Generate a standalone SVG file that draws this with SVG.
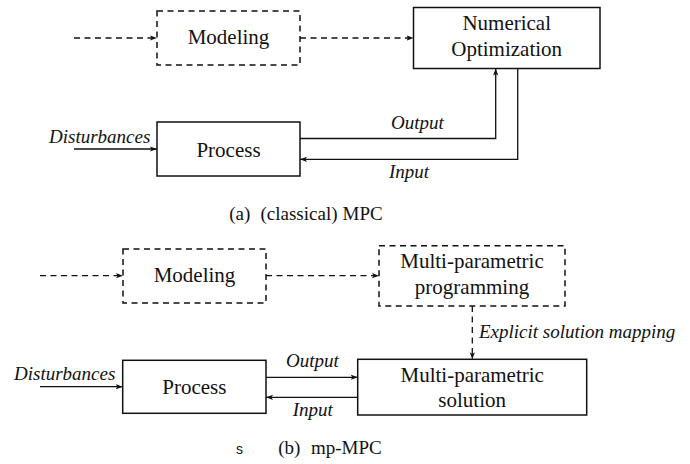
<svg xmlns="http://www.w3.org/2000/svg" width="690" height="464" viewBox="0 0 690 464">
<defs>
<marker id="arr" viewBox="0 0 7 6" refX="7" refY="3" markerWidth="7" markerHeight="6" markerUnits="userSpaceOnUse" orient="auto">
<path d="M0,0.4 L7,3 L0,5.6 L1.6,3 z" fill="#111" stroke="none"/>
</marker>
</defs>
<style>
.box{fill:#fff;stroke:#111;stroke-width:1.5}
.dbox{fill:#fff;stroke:#111;stroke-width:1.5;stroke-dasharray:6 4.5}
.ln{fill:none;stroke:#111;stroke-width:1.3}
.dl{fill:none;stroke:#111;stroke-width:1.3;stroke-dasharray:6 4.5}
text{font-family:'Liberation Serif','Times New Roman','DejaVu Serif',serif;fill:#111}
.t{font-size:21px;text-anchor:middle}
.it{font-size:19px;font-style:italic}
.cap{font-size:19px}
.s{font-family:'Liberation Sans',Arial,sans-serif;font-size:14px}
</style>

<g id="connectors">
<path class="dl" d="M74,38 H157" marker-end="url(#arr)"/>
<path class="dl" d="M300,38 H413.5" marker-end="url(#arr)"/>
<path class="ln" d="M74,149 H157" marker-end="url(#arr)"/>
<path class="ln" d="M300,138.5 H495.7 V68.5" marker-end="url(#arr)"/>
<path class="ln" d="M517.7,68.5 V159.3 H300" marker-end="url(#arr)"/>

<path class="dl" d="M40,275.7 H123" marker-end="url(#arr)"/>
<path class="dl" d="M266,275.7 H379" marker-end="url(#arr)"/>
<path class="dl" d="M472.3,306 V359.3" marker-end="url(#arr)"/>
<path class="ln" d="M40,386.7 H122.7" marker-end="url(#arr)"/>
<path class="ln" d="M266,377.3 H357.7" marker-end="url(#arr)"/>
<path class="ln" d="M357.7,397.3 H266" marker-end="url(#arr)"/>
</g>

<g id="modeling-a">
<rect class="dbox" x="157" y="11" width="143" height="54"/>
<text class="t" x="228.5" y="44">Modeling</text>
</g>
<g id="numopt-a">
<rect class="box" x="413.5" y="7.5" width="186.5" height="61"/>
<text class="t" x="506.7" y="29.5">Numerical</text>
<text class="t" x="506.7" y="56">Optimization</text>
</g>
<g id="process-a">
<rect class="box" x="157" y="122" width="143" height="54"/>
<text class="t" x="228.5" y="156.7">Process</text>
</g>
<g id="labels-a">
<text class="it" x="49" y="142.5">Disturbances</text>
<text class="it" x="391" y="129">Output</text>
<text class="it" x="389" y="178">Input</text>
<text class="cap" x="229.3" y="220">(a)</text>
<text class="cap" x="260.5" y="220">(classical)</text>
<text class="cap" x="382.7" y="220" text-anchor="end">MPC</text>
</g>

<g id="modeling-b">
<rect class="dbox" x="123" y="249" width="143" height="54"/>
<text class="t" x="194.5" y="282.3">Modeling</text>
</g>
<g id="mpp-b">
<rect class="dbox" x="379" y="245.7" width="186" height="60.3"/>
<text class="t" x="472" y="268.3">Multi-parametric</text>
<text class="t" x="472" y="294.3">programming</text>
</g>
<g id="mps-b">
<rect class="box" x="357.7" y="359.3" width="229" height="55.7"/>
<text class="t" x="472.2" y="381.7">Multi-parametric</text>
<text class="t" x="472.2" y="407.3">solution</text>
</g>
<g id="process-b">
<rect class="box" x="122.7" y="360.3" width="143.3" height="53"/>
<text class="t" x="194.3" y="394.3">Process</text>
</g>
<g id="labels-b">
<text class="it" x="14" y="380">Disturbances</text>
<text class="it" x="286" y="366.5">Output</text>
<text class="it" x="292.7" y="416">Input</text>
<text class="it" x="479" y="337.7">Explicit solution mapping</text>
<text class="s" x="236" y="454">s</text>
<text class="cap" x="278.3" y="454">(b)</text>
<text class="cap" x="381.7" y="454" text-anchor="end">mp-MPC</text>
</g>
</svg>
